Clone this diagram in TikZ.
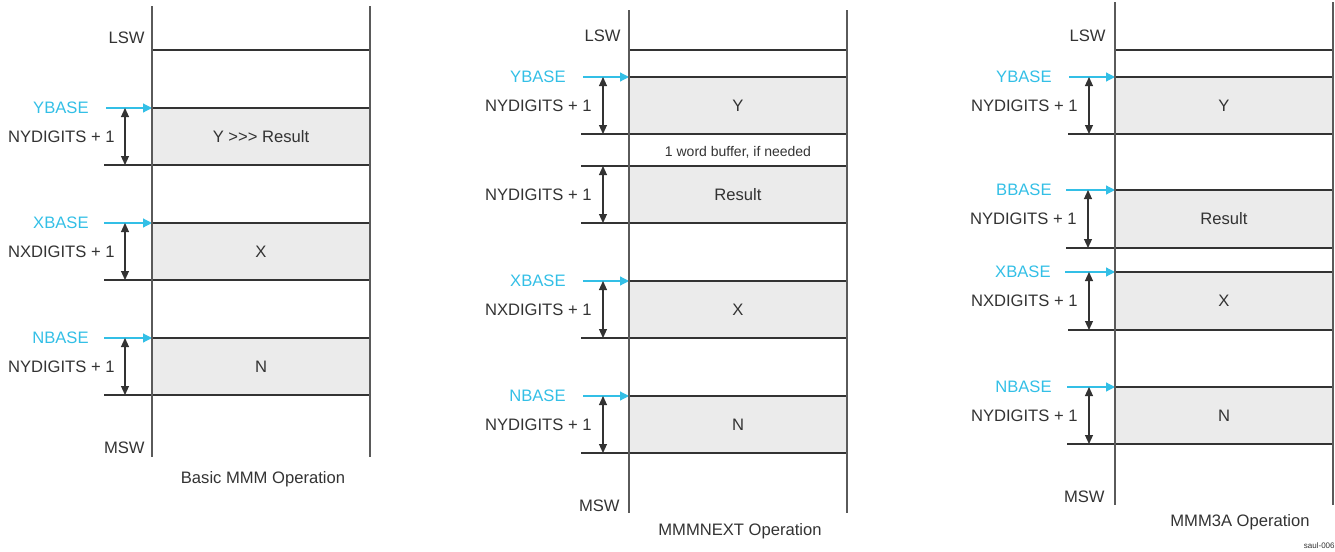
\documentclass[tikz,border=0pt]{standalone}
\usepackage{fontspec}
\setmainfont{Liberation Sans}
\usepackage{xcolor}
\usepackage{tikz}
\usetikzlibrary{arrows.meta}
\definecolor{ciano}{HTML}{33BFE6}
\definecolor{grigio}{HTML}{EBEBEB}
\definecolor{scuro}{HTML}{333333}
\definecolor{muro}{HTML}{5A5A5A}

\begin{document}
\begin{tikzpicture}[x=0.5pt, y=-0.5pt,
    parete/.style={draw=muro, line width=0.7pt},
    riga/.style={draw=scuro, line width=0.6pt},
    cella/.style={fill=grigio},
    puntatore/.style={draw=ciano, line width=0.6pt, -{Triangle[length=4.5pt,width=4.5pt]}},
    quota/.style={draw=scuro, line width=0.55pt, {Triangle[length=4.5pt,width=4pt]}-{Triangle[length=4.5pt,width=4pt]}},
    testo/.style={font=\fontsize{8.3}{10}\selectfont, text=scuro, inner sep=0pt},
    etichetta/.style={testo, anchor=east},
    nomebase/.style={etichetta, text=ciano}]

    \useasboundingbox (0,0) rectangle (1335,552);

    % ===== Basic MMM Operation =====
    \node[etichetta] (lsw1) at (145,38) {LSW};
    \draw[riga] (152,50) -- (370,50);

    % Blocco Y >>> Result
    \fill[cella] (152,108) rectangle (370,165);
    \draw[riga] (152,108) -- (370,108);
    \draw[riga] (104,165) -- (370,165);
    \node[testo] (yr1) at (261,137) {Y >\kern0pt>\kern0pt> Result};
    \coordinate (yb1s) at (106,108); \coordinate (yb1e) at (152,108);
    \draw[puntatore] (yb1s) -- (yb1e);
    \node[nomebase] (ybase1) at (89,108) {YBASE};
    \coordinate (qy1a) at (125,108); \coordinate (qy1b) at (125,165);
    \draw[quota] (qy1a) -- (qy1b);
    \node[etichetta] (ny1) at (115,137) {NYDIGITS + 1};

    % Blocco X
    \fill[cella] (152,223) rectangle (370,280);
    \draw[riga] (152,223) -- (370,223);
    \draw[riga] (104,280) -- (370,280);
    \node[testo] (x1) at (261,252) {X};
    \coordinate (xb1s) at (104,223); \coordinate (xb1e) at (152,223);
    \draw[puntatore] (xb1s) -- (xb1e);
    \node[nomebase] (xbase1) at (89,223) {XBASE};
    \coordinate (qx1a) at (125,223); \coordinate (qx1b) at (125,280);
    \draw[quota] (qx1a) -- (qx1b);
    \node[etichetta] (nx1) at (115,252) {NXDIGITS + 1};

    % Blocco N
    \fill[cella] (152,338) rectangle (370,395);
    \draw[riga] (152,338) -- (370,338);
    \draw[riga] (104,395) -- (370,395);
    \node[testo] (n1) at (261,367) {N};
    \coordinate (nb1s) at (104,338); \coordinate (nb1e) at (152,338);
    \draw[puntatore] (nb1s) -- (nb1e);
    \node[nomebase] (nbase1) at (89,338) {NBASE};
    \coordinate (qn1a) at (125,338); \coordinate (qn1b) at (125,395);
    \draw[quota] (qn1a) -- (qn1b);
    \node[etichetta] (nn1) at (115,367) {NYDIGITS + 1};

    \draw[parete] (152,6) -- (152,457);
    \draw[parete] (370,6) -- (370,457);
    \node[etichetta] (msw1) at (145,448) {MSW};
    \node[testo] (tit1) at (263,479) {Basic MMM Operation};

    % ===== MMMNEXT Operation =====
    \node[etichetta] (lsw2) at (621,36) {LSW};
    \draw[riga] (629,50) -- (847,50);

    % Blocco Y
    \fill[cella] (629,77) rectangle (847,134);
    \draw[riga] (629,77) -- (847,77);
    \draw[riga] (581,134) -- (847,134);
    \node[testo] (y2) at (738,106) {Y};
    \coordinate (yb2s) at (583,77); \coordinate (yb2e) at (629,77);
    \draw[puntatore] (yb2s) -- (yb2e);
    \node[nomebase] (ybase2) at (566,77) {YBASE};
    \coordinate (qy2a) at (603,77); \coordinate (qy2b) at (603,134);
    \draw[quota] (qy2a) -- (qy2b);
    \node[etichetta] (ny2) at (592,106) {NYDIGITS + 1};

    % Buffer
    \node[testo, font=\fontsize{7}{8}\selectfont] (buf2) at (738,152) {1 word buffer, if needed};

    % Blocco Result
    \fill[cella] (629,166) rectangle (847,223);
    \draw[riga] (581,166) -- (847,166);
    \draw[riga] (581,223) -- (847,223);
    \node[testo] (r2) at (738,195) {Result};
    \coordinate (qr2a) at (603,166); \coordinate (qr2b) at (603,223);
    \draw[quota] (qr2a) -- (qr2b);
    \node[etichetta] (nr2) at (592,195) {NYDIGITS + 1};

    % Blocco X
    \fill[cella] (629,281) rectangle (847,338);
    \draw[riga] (629,281) -- (847,281);
    \draw[riga] (581,338) -- (847,338);
    \node[testo] (x2) at (738,310) {X};
    \coordinate (xb2s) at (583,281); \coordinate (xb2e) at (629,281);
    \draw[puntatore] (xb2s) -- (xb2e);
    \node[nomebase] (xbase2) at (566,281) {XBASE};
    \coordinate (qx2a) at (603,281); \coordinate (qx2b) at (603,338);
    \draw[quota] (qx2a) -- (qx2b);
    \node[etichetta] (nx2) at (592,310) {NXDIGITS + 1};

    % Blocco N
    \fill[cella] (629,396) rectangle (847,453);
    \draw[riga] (629,396) -- (847,396);
    \draw[riga] (581,453) -- (847,453);
    \node[testo] (n2) at (738,425) {N};
    \coordinate (nb2s) at (583,396); \coordinate (nb2e) at (629,396);
    \draw[puntatore] (nb2s) -- (nb2e);
    \node[nomebase] (nbase2) at (566,396) {NBASE};
    \coordinate (qn2a) at (603,396); \coordinate (qn2b) at (603,453);
    \draw[quota] (qn2a) -- (qn2b);
    \node[etichetta] (nn2) at (592,425) {NYDIGITS + 1};

    \draw[parete] (629,10) -- (629,513);
    \draw[parete] (847,10) -- (847,513);
    \node[etichetta] (msw2) at (620,506) {MSW};
    \node[testo] (tit2) at (740,531) {MMMNEXT Operation};

    % ===== MMM3A Operation =====
    \node[etichetta] (lsw3) at (1106,36) {LSW};
    \draw[riga] (1115,50) -- (1333,50);

    % Blocco Y
    \fill[cella] (1115,77) rectangle (1333,134);
    \draw[riga] (1115,77) -- (1333,77);
    \draw[riga] (1068,134) -- (1333,134);
    \node[testo] (y3) at (1224,106) {Y};
    \coordinate (yb3s) at (1069,77); \coordinate (yb3e) at (1115,77);
    \draw[puntatore] (yb3s) -- (yb3e);
    \node[nomebase] (ybase3) at (1052,77) {YBASE};
    \coordinate (qy3a) at (1089,77); \coordinate (qy3b) at (1089,134);
    \draw[quota] (qy3a) -- (qy3b);
    \node[etichetta] (ny3) at (1078,106) {NYDIGITS + 1};

    % Blocco Result
    \fill[cella] (1115,190) rectangle (1333,248);
    \draw[riga] (1115,190) -- (1333,190);
    \draw[riga] (1066,248) -- (1333,248);
    \node[testo] (r3) at (1224,219) {Result};
    \coordinate (bb3s) at (1066,190); \coordinate (bb3e) at (1115,190);
    \draw[puntatore] (bb3s) -- (bb3e);
    \node[nomebase] (bbase3) at (1052,190) {BBASE};
    \coordinate (qr3a) at (1088,190); \coordinate (qr3b) at (1088,248);
    \draw[quota] (qr3a) -- (qr3b);
    \node[etichetta] (nr3) at (1077,219) {NYDIGITS + 1};

    % Blocco X
    \fill[cella] (1115,272) rectangle (1333,330);
    \draw[riga] (1115,272) -- (1333,272);
    \draw[riga] (1068,330) -- (1333,330);
    \node[testo] (x3) at (1224,301) {X};
    \coordinate (xb3s) at (1065,272); \coordinate (xb3e) at (1115,272);
    \draw[puntatore] (xb3s) -- (xb3e);
    \node[nomebase] (xbase3) at (1051,272) {XBASE};
    \coordinate (qx3a) at (1089,272); \coordinate (qx3b) at (1089,330);
    \draw[quota] (qx3a) -- (qx3b);
    \node[etichetta] (nx3) at (1078,301) {NXDIGITS + 1};

    % Blocco N
    \fill[cella] (1115,387) rectangle (1333,444);
    \draw[riga] (1115,387) -- (1333,387);
    \draw[riga] (1067,444) -- (1333,444);
    \node[testo] (n3) at (1224,416) {N};
    \coordinate (nb3s) at (1067,387); \coordinate (nb3e) at (1115,387);
    \draw[puntatore] (nb3s) -- (nb3e);
    \node[nomebase] (nbase3) at (1052,387) {NBASE};
    \coordinate (qn3a) at (1089,387); \coordinate (qn3b) at (1089,444);
    \draw[quota] (qn3a) -- (qn3b);
    \node[etichetta] (nn3) at (1078,416) {NYDIGITS + 1};

    \draw[parete] (1115,2) -- (1115,505);
    \draw[parete] (1333,2) -- (1333,505);
    \node[etichetta] (msw3) at (1105,497) {MSW};
    \node[testo] (tit3) at (1240,522) {MMM3A Operation};

    % sigla figura
    \node[testo, anchor=east, font=\fontsize{4}{5}\selectfont] (sigla) at (1335,546) {saul-006};
\end{tikzpicture}
\end{document}
